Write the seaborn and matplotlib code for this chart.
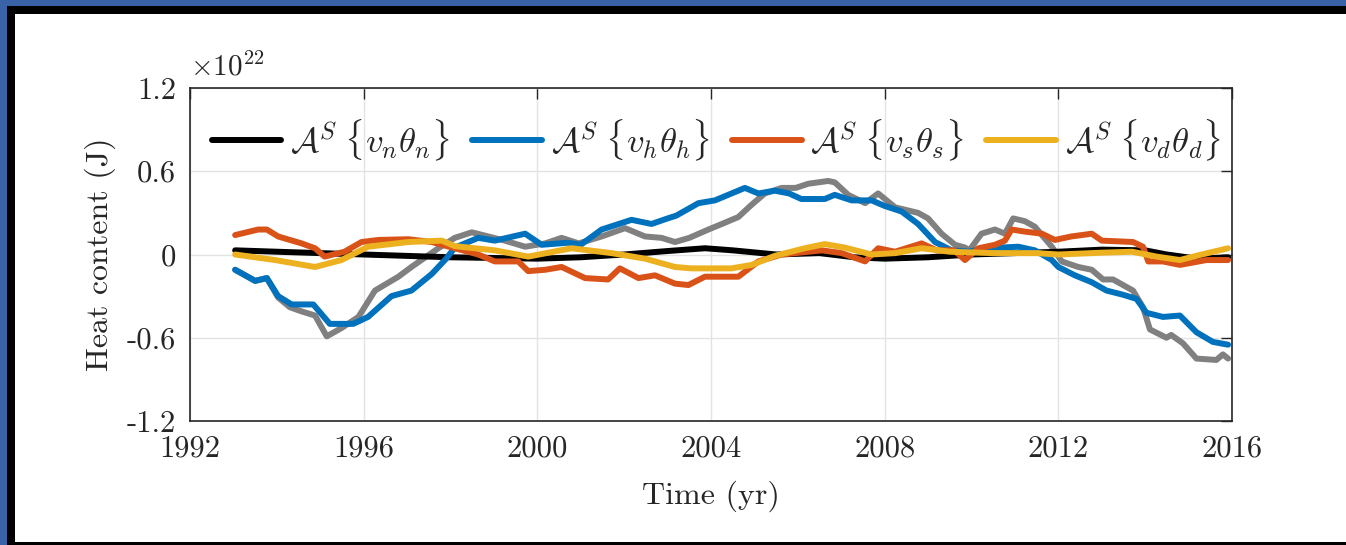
import matplotlib
matplotlib.use("Agg")
import matplotlib.pyplot as plt
from matplotlib.patches import Rectangle
from matplotlib.lines import Line2D
import seaborn as sns
import pandas as pd

# ---------------- data (units of 1e22 J) ----------------
t_total = [1993.04, 1993.5, 1993.77, 1994.03, 1994.3, 1994.57, 1994.88, 1995.15, 1995.49, 1995.88,
           1996.26, 1996.8, 1997.1, 1997.72, 1998.1, 1998.49, 1998.87, 1999.25, 1999.72, 2000.18,
           2000.56, 2000.95, 2001.48, 2002.02, 2002.48, 2002.86, 2003.17, 2003.5, 2003.94, 2004.25,
           2004.63, 2004.94, 2005.24, 2005.63, 2005.95, 2006.24, 2006.7, 2006.85, 2007.16, 2007.55,
           2007.85, 2008.24, 2008.77, 2009.0, 2009.31, 2009.62, 2009.85, 2009.95, 2010.23, 2010.54,
           2010.77, 2010.96, 2011.23, 2011.46, 2011.85, 2012.08, 2012.46, 2012.77, 2013.03, 2013.26,
           2013.72, 2013.95, 2014.11, 2014.49, 2014.6, 2014.87, 2015.18, 2015.64, 2015.79, 2015.91]
v_total = [-0.11, -0.19, -0.17, -0.31, -0.38, -0.41, -0.44, -0.59, -0.53, -0.45,
           -0.26, -0.16, -0.09, 0.045, 0.12, 0.16, 0.13, 0.10, 0.056, 0.08,
           0.12, 0.08, 0.13, 0.19, 0.13, 0.12, 0.09, 0.12, 0.18, 0.22,
           0.27, 0.36, 0.44, 0.48, 0.48, 0.51, 0.53, 0.52, 0.43, 0.37,
           0.44, 0.34, 0.30, 0.26, 0.15, 0.07, 0.05, 0.03, 0.15, 0.18,
           0.15, 0.26, 0.24, 0.20, 0.056, -0.05, -0.09, -0.11, -0.18, -0.18,
           -0.26, -0.38, -0.54, -0.60, -0.58, -0.64, -0.75, -0.76, -0.72, -0.75]

t_n = [1993.04, 1994.0, 1995.0, 1996.0, 1997.0, 1998.0, 1999.0, 2000.0, 2001.0, 2002.0,
       2003.0, 2003.86, 2004.5, 2005.5, 2006.5, 2007.3, 2008.0, 2009.0, 2010.0, 2011.0,
       2012.0, 2013.0, 2014.0, 2014.5, 2015.2, 2015.91]
v_n = [0.03, 0.02, 0.01, 0.0, -0.01, -0.02, -0.025, -0.03, -0.02, 0.0,
       0.025, 0.045, 0.03, 0.0, 0.01, -0.02, -0.03, -0.02, 0.0, 0.01,
       0.02, 0.035, 0.03, 0.0, -0.03, -0.02]

t_h = [1993.04, 1993.5, 1993.77, 1994.03, 1994.34, 1994.84, 1995.22, 1995.76, 1996.1, 1996.64,
       1997.1, 1997.57, 1997.9, 1998.1, 1998.64, 1999.02, 1999.72, 2000.1, 2000.71, 2001.0,
       2001.48, 2002.17, 2002.63, 2003.0, 2003.2, 2003.71, 2004.09, 2004.78, 2005.09, 2005.47,
       2005.8, 2006.08, 2006.62, 2006.85, 2007.24, 2007.7, 2008.0, 2008.39, 2008.77, 2009.16,
       2009.54, 2009.93, 2010.31, 2011.08, 2011.46, 2011.85, 2012.0, 2012.38, 2012.77, 2013.11,
       2013.49, 2013.8, 2014.03, 2014.41, 2014.8, 2015.18, 2015.56, 2015.91]
v_h = [-0.11, -0.19, -0.17, -0.30, -0.36, -0.36, -0.50, -0.50, -0.45, -0.30,
       -0.26, -0.14, -0.03, 0.05, 0.12, 0.10, 0.15, 0.07, 0.085, 0.07,
       0.18, 0.25, 0.22, 0.26, 0.28, 0.37, 0.39, 0.48, 0.44, 0.46,
       0.44, 0.40, 0.40, 0.43, 0.39, 0.39, 0.35, 0.31, 0.22, 0.09,
       0.03, 0.02, 0.045, 0.056, 0.03, -0.04, -0.09, -0.15, -0.20, -0.26,
       -0.29, -0.32, -0.42, -0.45, -0.44, -0.56, -0.63, -0.65]

t_s = [1993.04, 1993.57, 1993.77, 1994.03, 1994.57, 1994.88, 1995.1, 1995.56, 1995.95, 1996.34,
       1997.03, 1997.57, 1998.1, 1998.64, 1999.02, 1999.56, 1999.79, 2000.18, 2000.56, 2001.1,
       2001.63, 2001.9, 2002.33, 2002.71, 2003.17, 2003.48, 2003.86, 2004.63, 2005.09, 2005.63,
       2006.55, 2007.01, 2007.55, 2007.85, 2008.24, 2008.85, 2009.2, 2009.6, 2009.85, 2010.16,
       2010.54, 2010.77, 2010.92, 2011.23, 2011.62, 2011.92, 2012.3, 2012.77, 2013.0, 2013.72,
       2013.95, 2014.07, 2014.41, 2014.8, 2015.41, 2015.91]
v_s = [0.14, 0.18, 0.18, 0.13, 0.08, 0.045, -0.015, 0.02, 0.09, 0.105,
       0.11, 0.09, 0.045, 0.0, -0.05, -0.05, -0.12, -0.11, -0.09, -0.17,
       -0.18, -0.10, -0.17, -0.15, -0.21, -0.22, -0.16, -0.16, -0.05, 0.0,
       0.03, 0.01, -0.05, 0.045, 0.02, 0.08, 0.03, 0.03, -0.04, 0.045,
       0.07, 0.10, 0.18, 0.165, 0.15, 0.105, 0.13, 0.15, 0.10, 0.09,
       0.056, -0.05, -0.05, -0.075, -0.04, -0.04]

t_d = [1993.04, 1993.96, 1994.88, 1995.49, 1996.1, 1997.03, 1997.8, 1998.1, 1999.02, 1999.79,
       2000.79, 2001.71, 2002.48, 2003.17, 2003.55, 2004.47, 2004.94, 2005.47, 2006.16, 2006.62,
       2007.08, 2007.7, 2008.24, 2008.85, 2009.5, 2010.5, 2011.5, 2012.0, 2013.0, 2013.7,
       2014.26, 2014.8, 2015.3, 2015.91]
v_d = [0.0, -0.04, -0.09, -0.04, 0.056, 0.09, 0.10, 0.06, 0.03, -0.015,
       0.045, 0.01, -0.03, -0.09, -0.10, -0.10, -0.075, -0.01, 0.045, 0.075,
       0.05, 0.0, 0.01, 0.045, 0.02, 0.01, 0.01, 0.0, 0.013, 0.02,
       -0.015, -0.04, 0.0, 0.045]

labels = [r'$\mathcal{A}^S\;\{v_n\theta_n\}$', r'$\mathcal{A}^S\;\{v_h\theta_h\}$',
          r'$\mathcal{A}^S\;\{v_s\theta_s\}$', r'$\mathcal{A}^S\;\{v_d\theta_d\}$']
x_ticks = [1992, 1996, 2000, 2004, 2008, 2012, 2016]
y_ticks = [-1.2, -0.6, 0, 0.6, 1.2]
y_ticklabels = ['-1.2', '-0.6', '0', '0.6', '1.2']

# ---------------- style ----------------
sns.set_style("white")
plt.rcParams['font.family'] = ['cmr10', 'DejaVu Serif']
plt.rcParams['mathtext.fontset'] = 'cm'
plt.rcParams['axes.unicode_minus'] = False
plt.rcParams['axes.formatter.use_mathtext'] = True

c_total = '#808080'
c_n = '#000000'
c_h = '#0072BD'
c_s = '#D95319'
c_d = '#EDB120'

fig = plt.figure(figsize=(13.46, 5.45), dpi=100, facecolor='#3a62a6')
fig.patches.append(Rectangle((7 / 1346, 0), 1.0, 539 / 545, transform=fig.transFigure,
                             facecolor='black', edgecolor='none', zorder=-10))
fig.patches.append(Rectangle((15 / 1346, 3 / 545), 1.0, 528 / 545, transform=fig.transFigure,
                             facecolor='white', edgecolor='none', zorder=-9))

ax = fig.add_axes([190 / 1346, 124 / 545, 1042 / 1346, 333 / 545])
ax.set_facecolor('white')

lw = 4.3
series = [(t_total, v_total, c_total), (t_n, v_n, c_n), (t_h, v_h, c_h),
          (t_s, v_s, c_s), (t_d, v_d, c_d)]
for t, v, c in series:
    df = pd.DataFrame({'t': t, 'v': v})
    sns.lineplot(data=df, x='t', y='v', color=c, linewidth=lw, ax=ax,
                 estimator=None, sort=False, legend=False)

ax.set_xlim(1992, 2016)
ax.set_ylim(-1.2, 1.2)
ax.set_xticks(x_ticks)
ax.set_xticklabels([str(x) for x in x_ticks])
ax.set_yticks(y_ticks)
ax.set_yticklabels(y_ticklabels)
ax.grid(True, color='#e3e3e3', linewidth=1.0)
ax.set_axisbelow(True)
for s in ax.spines.values():
    s.set_visible(True)
    s.set_color('#262626')
    s.set_linewidth(1.2)
    s.set_zorder(5)
ax.tick_params(direction='in', length=8, width=1.0, colors='#262626',
               top=True, right=True, labelsize=22, pad=10)
for lab in ax.get_xticklabels() + ax.get_yticklabels():
    lab.set_color('#262626')

ax.set_xlabel('Time (yr)', fontsize=23, color='#262626', labelpad=13)
ax.set_ylabel('Heat content (J)', fontsize=23, color='#262626', labelpad=8)
ax.text(0.0, 1.02, r'$\times10^{22}$', transform=ax.transAxes, fontsize=21,
        color='#262626', ha='left', va='bottom')

handles = [Line2D([0], [0], color=c, linewidth=lw) for c in [c_n, c_h, c_s, c_d]]
leg = ax.legend(handles, labels, loc='center', bbox_to_anchor=(0.505, 0.844), ncol=4,
                fontsize=25, frameon=False, handlelength=2.0, handletextpad=0.25,
                columnspacing=0.65, borderpad=0.1, borderaxespad=0.0)

fig.savefig('out.png', dpi=100, facecolor=fig.get_facecolor())
